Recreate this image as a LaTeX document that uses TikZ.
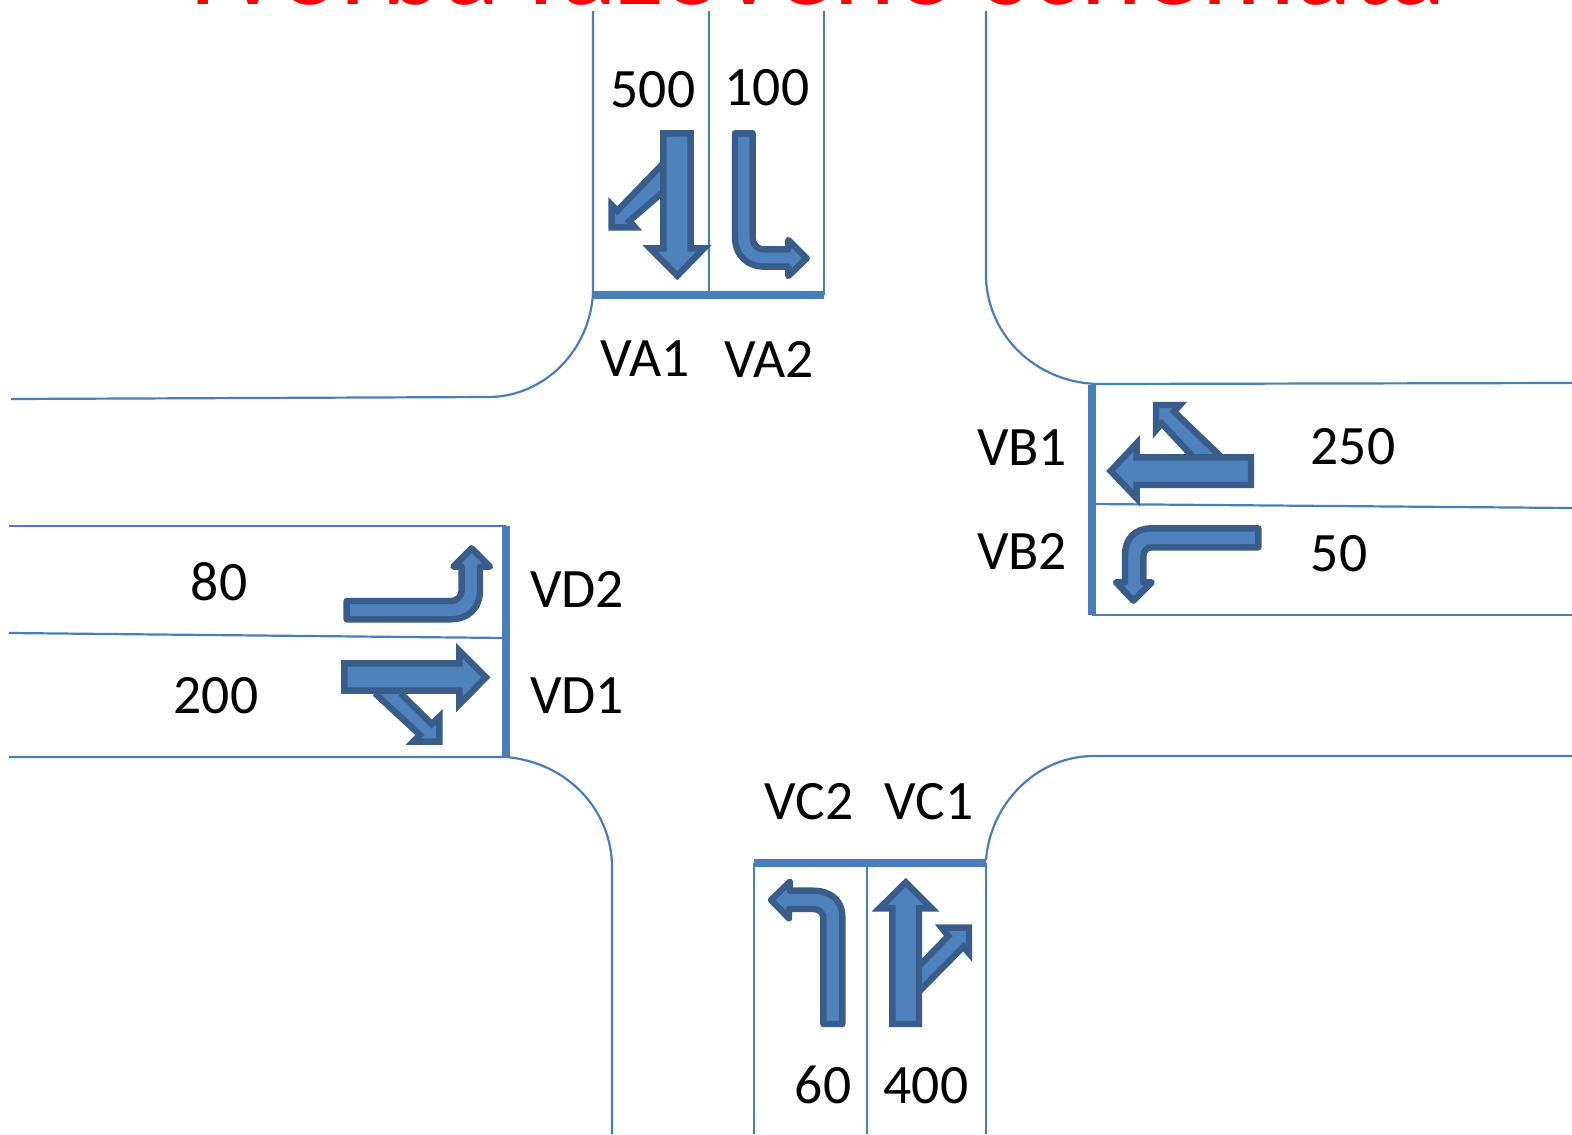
\documentclass[tikz,border=0pt]{standalone}
\usepackage{fontspec}
\setmainfont{Carlito}
\definecolor{roadc}{HTML}{4A7EBB}
\definecolor{arrowf}{HTML}{4F81BD}
\definecolor{arrowd}{HTML}{385D8A}
\tikzset{
  road/.style={draw=roadc,line width=1.1pt},
  wall/.style={draw=roadc,line width=3.7pt},
  lane/.style={draw=arrowd,fill=arrowf,line width=3.2pt,line join=miter},
  lanecurved/.style={draw=arrowd,fill=arrowf,line width=3.2pt,line join=round},
  lbl/.style={inner sep=0pt,font=\fontsize{27.8}{30}\selectfont},
  zoomed/.style={x=0.16667pt,y=-0.16667pt}
}
\begin{document}
\begin{tikzpicture}[x=0.5pt,y=-0.5pt]
\useasboundingbox (0,0) rectangle (1572,1134);
\clip (0,0) rectangle (1572,1134);
\fill[white] (0,0) rectangle (1572,1134);
\node[anchor=base,inner sep=0pt,text=red,font=\fontsize{59}{66}\selectfont] (title) at (810,5) {Tvorba fázového schemata};
% roads
\draw[road] (593,11) -- (593,293) .. controls (590,350) and (545,396) .. (490,397) -- (11,399);
\draw[road] (709,11) -- (709,295);
\draw[road] (824,11) -- (824,295);
\draw[road] (986,11) -- (986,278) .. controls (988,335) and (1035,382) .. (1097,384) -- (1572,383);
\draw[road] (1092,504) -- (1572,508);
\draw[road] (1092,615) -- (1572,615);
\draw[road] (9,526) -- (506,526);
\draw[road] (9,633) -- (506,638);
\draw[road] (9,757) -- (506,757) .. controls (565,762) and (610,807) .. (612,864) -- (612,1134);
\draw[road] (986,860) .. controls (990,805) and (1035,757) .. (1092,756) -- (1572,756);
\draw[road] (754,863) -- (754,1134);
\draw[road] (867,863) -- (867,1134);
\draw[road] (986,863) -- (986,1134);
% stop bars
\draw[wall] (593,295) -- (824,295);
\draw[wall] (1092,385) -- (1092,615);
\draw[wall] (506,526) -- (506,757);
\draw[wall] (754,863) -- (986,863);
% VA arrows
\begin{scope}[shift={(580,110)},zoomed]
\draw[lane] (250,160) -- (112,302) -- (95,285) -- (95,352) -- (165,352) -- (148,333) -- (250,245);
\draw[lane] (250,70) -- (332,70) -- (332,415) -- (372,415) -- (292,497) -- (210,415) -- (250,415) -- cycle;
\draw[lanecurved] (465,70) -- (518,70) -- (518,380) .. controls (518,405) and (530,418) .. (555,418) -- (625,418) -- (625,390) -- (680,445) -- (625,498) -- (625,470) -- (555,470) .. controls (500,470) and (465,435) .. (465,380) -- cycle;
\end{scope}
% VB arrows
\begin{scope}[shift={(1080,370)},zoomed]
\draw[lane] (425,262) -- (282,125) -- (300,105) -- (228,105) -- (228,180) -- (245,160) -- (340,262);
\draw[lane] (513,262) -- (170,262) -- (170,220) -- (92,303) -- (170,385) -- (170,345) -- (513,345) -- cycle;
\draw[lanecurved] (535,475) -- (215,475) .. controls (165,475) and (135,505) .. (135,555) -- (135,637) -- (108,637) -- (160,692) -- (215,637) -- (190,637) -- (190,560) .. controls (190,542) and (200,532) .. (215,532) -- (535,532) -- cycle;
\end{scope}
% VD arrows
\begin{scope}[shift={(330,520)},zoomed]
\draw[lanecurved] (50,243) -- (360,243) .. controls (382,243) and (395,230) .. (395,210) -- (395,140) -- (370,140) -- (425,85) -- (480,140) -- (450,140) -- (450,210) .. controls (450,265) and (415,298) .. (360,298) -- (50,298) -- cycle;
\draw[lane] (135,520) -- (270,645) -- (250,665) -- (328,665) -- (328,590) -- (305,612) -- (212,520);
\draw[lane] (43,430) -- (388,430) -- (388,392) -- (468,472) -- (388,553) -- (388,512) -- (43,512) -- cycle;
\end{scope}
% VC arrows
\begin{scope}[shift={(745,850)},zoomed]
\draw[lanecurved] (235,522) -- (292,522) -- (292,200) .. controls (292,150) and (255,122) .. (205,122) -- (135,122) -- (135,95) -- (78,150) -- (132,205) -- (132,177) -- (205,177) .. controls (225,177) and (235,190) .. (235,205) -- cycle;
\draw[lane] (522,348) -- (610,258) -- (590,233) -- (672,233) -- (672,310) -- (655,290) -- (522,425);
\draw[lane] (442,522) -- (522,522) -- (522,175) -- (560,175) -- (482,97) -- (403,175) -- (442,175) -- cycle;
\end{scope}
% labels
\node[lbl] (n500) at (653,90) {500};
\node[lbl] (n100) at (767,88) {100};
\node[lbl] (va1) at (645,359) {VA1};
\node[lbl] (va2) at (769,359) {VA2};
\node[lbl] (vb1) at (1022,448) {VB1};
\node[lbl] (vb2) at (1022,551) {VB2};
\node[lbl] (n250) at (1353,447) {250};
\node[lbl] (n50) at (1339,554) {50};
\node[lbl] (n80) at (219,582) {80};
\node[lbl] (n200) at (216,696) {200};
\node[lbl] (vd2) at (577,589) {VD2};
\node[lbl] (vd1) at (577,696) {VD1};
\node[lbl] (vc2) at (809,802) {VC2};
\node[lbl] (vc1) at (929,802) {VC1};
\node[lbl] (n60) at (823,1085) {60};
\node[lbl] (n400) at (926,1086) {400};
\end{tikzpicture}
\end{document}
